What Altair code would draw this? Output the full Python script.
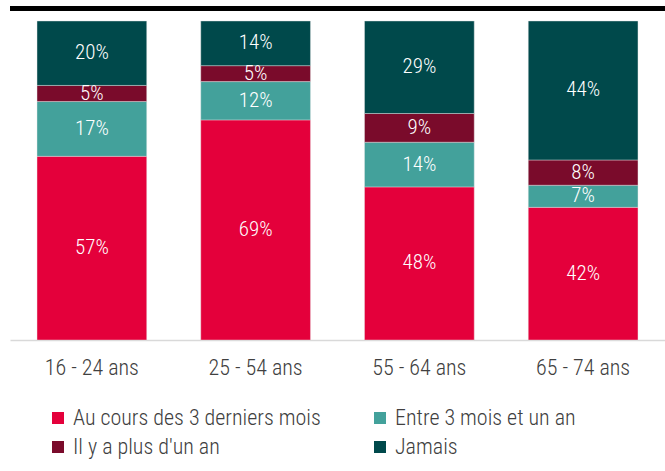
import altair as alt
import pandas as pd

ages = ["16 - 24 ans", "25 - 54 ans", "55 - 64 ans", "65 - 74 ans"]
series = ["Au cours des 3 derniers mois", "Entre 3 mois et un an", "Il y a plus d'un an", "Jamais"]
colors = ["#E4003B", "#43A19B", "#7A0B2B", "#00494B"]
v_recent = [57, 69, 48, 42]
v_3m_1an = [17, 12, 14, 7]
v_plus_1an = [5, 5, 9, 8]
v_jamais = [20, 14, 29, 44]

rows = []
for i, a in enumerate(ages):
    for j, (s, vals) in enumerate(zip(series, [v_recent, v_3m_1an, v_plus_1an, v_jamais])):
        rows.append({"age": a, "serie": s, "ordre": j, "value": vals[i]})
df = pd.DataFrame(rows)

FONT = "Roboto Condensed"

base = alt.Chart(df).transform_joinaggregate(
    total="sum(value)", groupby=["age"]
).transform_calculate(
    pct="datum.value / datum.total"
).transform_stack(
    stack="pct", groupby=["age"], as_=["y0", "y1"], sort=[alt.SortField("ordre", order="ascending")]
).transform_calculate(
    mid="(datum.y0 + datum.y1) / 2",
    label="datum.value + '%'"
)

xenc = alt.X(
    "age:N", sort=ages, title=None,
    scale=alt.Scale(paddingInner=0.33, paddingOuter=0.165),
    axis=alt.Axis(labelAngle=0, ticks=False, domainColor="#d9d9d9", domainWidth=1.5,
                  labelColor="#404040", labelFontSize=22, labelFont=FONT, labelFontWeight=300,
                  labelPadding=17),
)
yscale = alt.Scale(domain=[0, 1], nice=False)

bars = base.mark_bar(stroke="#e6e6e6", strokeWidth=0.6, strokeOpacity=0.7).encode(
    x=xenc,
    y=alt.Y("y0:Q", scale=yscale, axis=None),
    y2="y1:Q",
    color=alt.Color(
        "serie:N", sort=series,
        scale=alt.Scale(domain=series, range=colors),
        legend=alt.Legend(
            title=None, orient="none", legendX=37, legendY=386, columns=2, direction="horizontal",
            padding=0, symbolType="square", symbolSize=144, symbolStrokeWidth=0,
            labelFont=FONT, labelFontSize=22, labelFontWeight=300, labelColor="#404040",
            labelOffset=4, rowPadding=7, columnPadding=48, labelLimit=400,
        ),
    ),
)

texts = base.mark_text(color="white", font=FONT, fontSize=21, fontWeight=300, baseline="middle").encode(
    x=alt.X("age:N", sort=ages),
    y=alt.Y("mid:Q", scale=yscale),
    text="label:N",
)

topline = alt.Chart(pd.DataFrame({"k": [0]})).mark_rule(color="black", strokeWidth=5).encode(
    x=alt.value(0), x2=alt.value(655), y=alt.value(-12.5)
)

chart = alt.layer(bars, texts, topline).properties(
    width=655, height=319,
    autosize=alt.AutoSizeParams(type="none"),
    padding={"left": 10, "top": 21, "right": 0, "bottom": 131},
).configure(background="white").configure_view(stroke=None)

chart.save("out.html", embed_options={"renderer": "svg", "actions": False})
